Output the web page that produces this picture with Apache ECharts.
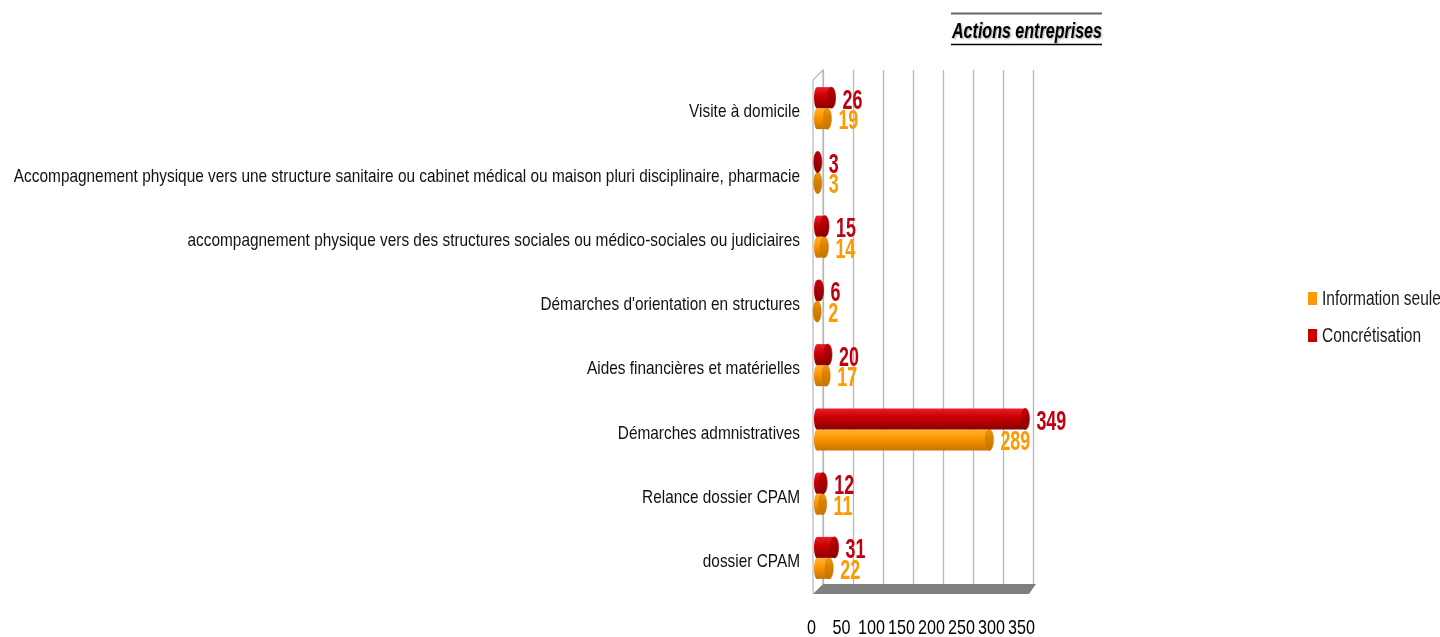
<!DOCTYPE html>
<html><head><meta charset="utf-8">
<script src="https://cdn.jsdelivr.net/npm/echarts@6/dist/echarts.min.js"></script>
<style>html,body{margin:0;padding:0;background:#fff}#c{width:1440px;height:637px}</style>
</head><body><div id="c"></div>
<script>
var categories = [
  "Visite à domicile",
  "Accompagnement physique vers une structure sanitaire ou cabinet médical ou maison pluri disciplinaire, pharmacie",
  "accompagnement physique vers des structures sociales ou médico-sociales ou judiciaires",
  "Démarches d'orientation en structures",
  "Aides financières et matérielles",
  "Démarches admnistratives",
  "Relance dossier CPAM",
  "dossier CPAM"
];
var infoSeule = [19, 3, 14, 2, 17, 289, 11, 22];
var concretisation = [26, 3, 15, 6, 20, 349, 12, 31];
var xTicks = [0, 50, 100, 150, 200, 250, 300, 350];
var seriesNames = ["Information seule", "Concrétisation"];
var titleText = "Actions entreprises";

var FONT = '"Liberation Sans", Arial, sans-serif';
var COLORS = {
  info: {main: '#ff9900', top: '#ffb23a', bot: '#c87400', cap: '#d98200', label: '#ff9900'},
  conc: {main: '#cc0000', top: '#e8202c', bot: '#8c0000', cap: '#a80008', label: '#c00010'}
};
function vgrad(top, mid, bot) {
  return new echarts.graphic.LinearGradient(0, 0, 0, 1, [
    {offset: 0, color: top}, {offset: 0.4, color: mid}, {offset: 1, color: bot}
  ]);
}
// cylinder bar renderer; dy = top offset relative to category centre, h = height
function cylinder(col, dy, h) {
  return function (params, api) {
    var v = api.value(0), i = api.value(1);
    var p0 = api.coord([0, i]), p1 = api.coord([v, i]);
    var y = p0[1] + dy;
    var rx = 4, ry = h / 2, cy = y + ry;
    var fill = vgrad(col.top, col.main, col.bot);
    return {type: 'group', children: [
      {type: 'ellipse', shape: {cx: p0[0] + 1, cy: cy, rx: 3, ry: ry}, style: {fill: fill}},
      {type: 'rect', shape: {x: p0[0] + 1, y: y, width: Math.max(p1[0] - p0[0] - 1, 0.5), height: h}, style: {fill: fill}},
      {type: 'ellipse', shape: {cx: p1[0], cy: cy, rx: rx, ry: ry},
       style: {fill: vgrad(col.main, col.cap, col.bot), stroke: col.bot, lineWidth: 0.6}}
    ]};
  };
}
function valueLabel(col, dy) {
  return function (params, api) {
    var v = api.value(0), i = api.value(1);
    var p = api.coord([v, i]);
    return {type: 'text', x: p[0] + 11, y: p[1] + dy, scaleX: 0.65, scaleY: 1,
      style: {text: String(v), fontFamily: FONT, fontSize: 27.5, fontWeight: 'bold', fill: col.label,
        align: 'left', verticalAlign: 'middle', textAlign: 'left', textVerticalAlign: 'middle'}};
  };
}
function pairs(arr) { return arr.map(function (v, i) { return [v, i]; }); }

var chart = echarts.init(document.getElementById('c'), null, {renderer: 'canvas'});
var option = {
  animation: false,
  backgroundColor: '#fff',
  legend: {
    data: seriesNames, orient: 'vertical', left: 1308, top: 292, padding: 0, itemWidth: 9, itemHeight: 13, itemGap: 24,
    icon: 'rect', formatter: function () { return ''; }, selectedMode: false,
    textStyle: {fontSize: 10, lineHeight: 13}
  },
  grid: [
    {left: 816, top: 80, width: 210, height: 514, outerBoundsMode: 'none', containLabel: false},
    {left: 823, top: 70, width: 210, height: 514, outerBoundsMode: 'none', containLabel: false}
  ],
  xAxis: [
    {type: 'value', gridIndex: 0, min: xTicks[0], max: xTicks[xTicks.length - 1], interval: 50,
     axisLine: {show: false}, axisTick: {show: false}, splitLine: {show: false}, axisLabel: {show: false}},
    {type: 'value', gridIndex: 1, min: xTicks[0], max: xTicks[xTicks.length - 1], interval: 50,
     axisLine: {show: false}, axisTick: {show: false}, axisLabel: {show: false},
     splitLine: {show: true, lineStyle: {color: '#b8b8b8', width: 1.3}}}
  ],
  yAxis: [
    {type: 'category', gridIndex: 0, data: categories, inverse: true,
     axisLine: {show: false}, axisTick: {show: false}, splitLine: {show: false}, axisLabel: {show: false}},
    {type: 'category', gridIndex: 1, data: categories, inverse: true, show: false}
  ],
  graphic: [
    {type: 'polygon', z: 1, shape: {points: [[813, 594], [1029, 594], [1036, 584], [823, 584]]},
     style: {fill: '#7f7f7f'}},
    {type: 'polyline', z: 1, shape: {points: [[813, 594], [813, 80], [823, 70], [823, 584]]},
     style: {stroke: '#b8b8b8', lineWidth: 1.2, fill: null}},
    {type: 'text', z: 10, x: 952, y: 32, scaleX: 0.73,
     style: {text: titleText, fontFamily: FONT, fontSize: 22, fontWeight: 'bold', fontStyle: 'italic', fill: '#000',
       align: 'left', verticalAlign: 'middle', textAlign: 'left', textVerticalAlign: 'middle',
       textShadowColor: 'rgba(0,0,0,0.35)', textShadowBlur: 2, textShadowOffsetX: 1, textShadowOffsetY: 1}},
    {type: 'line', z: 10, shape: {x1: 951, y1: 44.5, x2: 1102, y2: 44.5}, style: {stroke: '#000', lineWidth: 1.6}},
    {type: 'line', z: 10, shape: {x1: 951, y1: 13.5, x2: 1102, y2: 13.5}, style: {stroke: '#666', lineWidth: 1.8}},
    {type: 'text', z: 10, x: 1322, y: 299, scaleX: 0.775,
     style: {text: seriesNames[0], fontFamily: FONT, fontSize: 20, fill: '#1a1a1a',
       align: 'left', verticalAlign: 'middle', textAlign: 'left', textVerticalAlign: 'middle'}},
    {type: 'text', z: 10, x: 1322, y: 336, scaleX: 0.775,
     style: {text: seriesNames[1], fontFamily: FONT, fontSize: 20, fill: '#1a1a1a',
       align: 'left', verticalAlign: 'middle', textAlign: 'left', textVerticalAlign: 'middle'}}
  ],
  series: [
    {name: seriesNames[0], type: 'custom', xAxisIndex: 0, yAxisIndex: 0, data: pairs(infoSeule),
     itemStyle: {color: COLORS.info.main}, encode: {x: 0, y: 1}, clip: false, z: 3,
     renderItem: cylinder(COLORS.info, -4, 21)},
    {name: seriesNames[1], type: 'custom', xAxisIndex: 0, yAxisIndex: 0, data: pairs(concretisation),
     itemStyle: {color: COLORS.conc.main}, encode: {x: 0, y: 1}, clip: false, z: 3,
     renderItem: cylinder(COLORS.conc, -25, 21)},
    {name: 'lbl-info', type: 'custom', xAxisIndex: 0, yAxisIndex: 0, data: pairs(infoSeule),
     encode: {x: 0, y: 1}, clip: false, z: 5, silent: true, renderItem: valueLabel(COLORS.info, 9.5)},
    {name: 'lbl-conc', type: 'custom', xAxisIndex: 0, yAxisIndex: 0, data: pairs(concretisation),
     encode: {x: 0, y: 1}, clip: false, z: 5, silent: true, renderItem: valueLabel(COLORS.conc, -11)},
    {name: 'cat-labels', type: 'custom', xAxisIndex: 0, yAxisIndex: 0,
     data: categories.map(function (c, i) { return [0, i]; }),
     encode: {x: 0, y: 1}, clip: false, z: 5, silent: true,
     renderItem: function (params, api) {
       var i = api.value(1);
       var p = api.coord([0, i]);
       return {type: 'text', x: p[0] - 16, y: p[1], scaleX: 0.81,
         style: {text: categories[i], fontFamily: FONT, fontSize: 19, fill: '#111',
           align: 'right', verticalAlign: 'middle', textAlign: 'right', textVerticalAlign: 'middle'}};
     }},
    {name: 'tick-labels', type: 'custom', xAxisIndex: 0, yAxisIndex: 0,
     data: xTicks.map(function (t) { return [t, 0]; }),
     encode: {x: 0, y: 1}, clip: false, z: 5, silent: true,
     renderItem: function (params, api) {
       var t = api.value(0);
       var p = api.coord([t, 0]);
       var cs = params.coordSys;
       return {type: 'text', x: p[0] - 4.5, y: cs.y + cs.height + 34, scaleX: 0.77,
         style: {text: String(t), fontFamily: FONT, fontSize: 21, fill: '#000',
           align: 'center', verticalAlign: 'middle', textAlign: 'center', textVerticalAlign: 'middle'}};
     }}
  ]
};
chart.setOption(option);
</script></body></html>
